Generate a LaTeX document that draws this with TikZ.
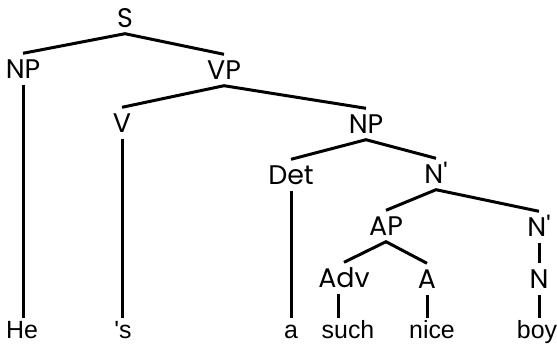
\documentclass[tikz,border=0pt]{standalone}
\usepackage{fontspec}
\setmainfont{Liberation Sans}
\newfontfamily\labfont{Poppins}
\begin{document}
\begin{tikzpicture}[x=1bp,y=-1bp,
  lab/.style={font=\labfont\fontsize{27}{27}\selectfont, text height=19bp, text depth=0bp, inner xsep=1bp, inner ysep=6bp},
  leaf/.style={font=\fontsize{25}{25}\selectfont, anchor=base, text height=17bp, text depth=5bp, inner xsep=1bp, inner ysep=3bp},
  edge/.style={line width=3bp}]
\useasboundingbox (0,0) rectangle (557,347);
\node[lab] (S) at (125,18) {S};
\node[lab] (NP) at (23,69) {NP};
\node[lab] (VP) at (224,70) {VP};
\node[lab] (V) at (122,123) {V};
\node[lab] (NPb) at (366,124) {NP};
\node[lab] (Det) at (291,175) {Det};
\node[lab] (Nbar) at (436,174) {N\textquotesingle};
\node[lab] (AP) at (386,226) {AP};
\node[lab] (Nbarb) at (539,227) {N\textquotesingle};
\node[lab] (Adv) at (344,278) {Adv};
\node[lab] (A) at (427,279) {A};
\node[lab] (N) at (539,279) {N};
\node[leaf] (he) at (22,338) {He};
\node[leaf] (s) at (123,338) {\textquotesingle s};
\node[leaf] (a) at (291,338) {a};
\node[leaf] (such) at (348,338) {such};
\node[leaf] (nice) at (432,338) {nice};
\node[leaf] (boy) at (537,338) {boy};
\draw[edge] (NP.north) -- (S.south) -- (VP.north);
\draw[edge] (V.north) -- (VP.south) -- (NPb.north);
\draw[edge] (Det.north) -- (NPb.south) -- (Nbar.north);
\draw[edge] (AP.north) -- (Nbar.south) -- (Nbarb.north);
\draw[edge] (Adv.north) -- (AP.south) -- (A.north);
\draw[edge] (Nbarb.south) -- (N.north);
\draw[edge] (NP.south) -- (NP.south |- he.north);
\draw[edge] (V.south) -- (V.south |- s.north);
\draw[edge] (Det.south) -- (Det.south |- a.north);
\draw[edge] ([xshift=-6bp]Adv.south) -- ([xshift=-6bp]Adv.south |- such.north);
\draw[edge] (A.south) -- (A.south |- nice.north);
\draw[edge] (N.south) -- (N.south |- boy.north);
\end{tikzpicture}
\end{document}
